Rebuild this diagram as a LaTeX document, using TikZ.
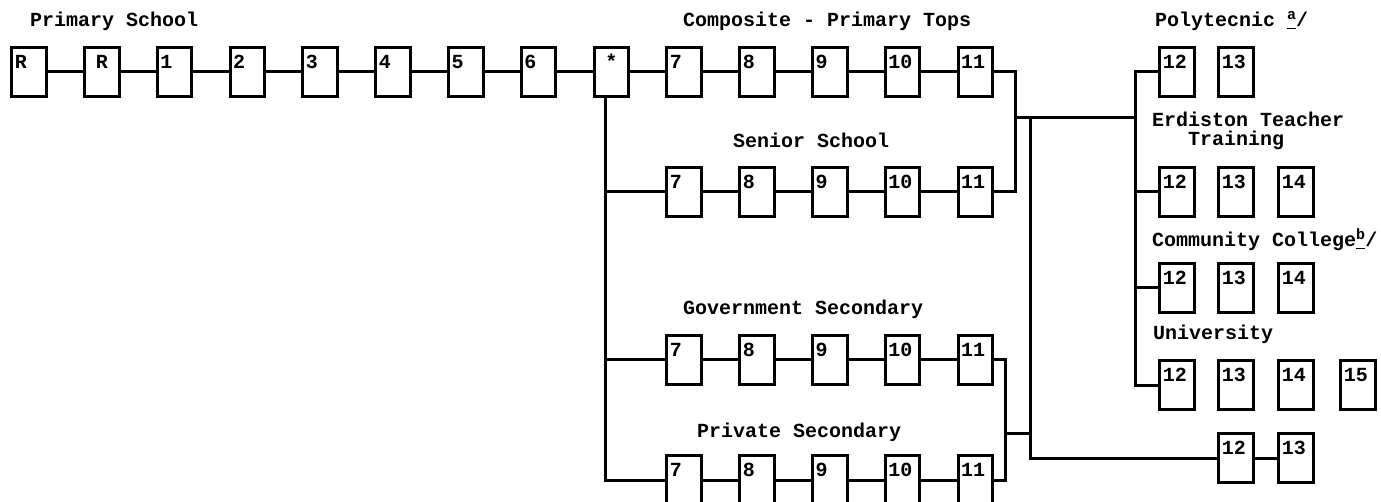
\documentclass[tikz,border=0pt]{standalone}
\usepackage{fontspec}
\setmonofont{Liberation Mono}
\tikzstyle{yr}=[draw=black,line width=3pt,font=\ttfamily\bfseries\fontsize{20}{20}\selectfont,text width=28.5pt,inner xsep=3pt,inner ysep=4pt,text height=16.5pt,text depth=24pt,align=left]
\tikzstyle{yrc}=[yr,align=center]
\tikzstyle{lbl}=[font=\ttfamily\bfseries\fontsize{20}{20}\selectfont,anchor=base west,inner sep=0pt]
\tikzstyle{link}=[line width=3pt]
\newcommand{\fnote}[1]{\underline{\raisebox{7pt}{\fontsize{15}{15}\selectfont #1}}/}

\begin{document}
\begin{tikzpicture}[x=1pt,y=-1pt]
\useasboundingbox (0,0) rectangle (1381,502);
% labels
\node[lbl] (lPrim) at (30,27) {Primary School};
\node[lbl] (lComp) at (683,27) {Composite - Primary Tops};
\node[lbl] (lPoly) at (1155,27) {Polytecnic \fnote{a}};
\node[lbl] (lSen) at (733,148) {Senior School};
\node[lbl] (lErd) at (1152,127) {Erdiston Teacher};
\node[lbl] (lErdb) at (1188,146) {Training};
\node[lbl] (lCom) at (1152,247) {Community College\fnote{b}};
\node[lbl] (lUni) at (1153,340) {University};
\node[lbl] (lGov) at (683,315) {Government Secondary};
\node[lbl] (lPriv) at (697,437) {Private Secondary};
% primary and composite row
\node[yr] (pR) at (29,72) {R};
\node[yrc] (pRR) at (101.8,72) {R};
\node[yr] (p1) at (174.6,72) {1};
\node[yr] (p2) at (247.4,72) {2};
\node[yr] (p3) at (320.2,72) {3};
\node[yr] (p4) at (393,72) {4};
\node[yr] (p5) at (465.8,72) {5};
\node[yr] (p6) at (538.6,72) {6};
\node[yrc] (pst) at (611.4,72) {*};
\node[yr] (c7) at (684.2,72) {7};
\node[yr] (c8) at (757,72) {8};
\node[yr] (c9) at (829.8,72) {9};
\node[yr] (c10) at (902.6,72) {10};
\node[yr] (c11) at (975.4,72) {11};
% senior school
\node[yr] (s7) at (684.2,192) {7};
\node[yr] (s8) at (757,192) {8};
\node[yr] (s9) at (829.8,192) {9};
\node[yr] (s10) at (902.6,192) {10};
\node[yr] (s11) at (975.4,192) {11};
% government secondary
\node[yr] (g7) at (684.2,360) {7};
\node[yr] (g8) at (757,360) {8};
\node[yr] (g9) at (829.8,360) {9};
\node[yr] (g10) at (902.6,360) {10};
\node[yr] (g11) at (975.4,360) {11};
% private secondary
\node[yr] (v7) at (684.2,480) {7};
\node[yr] (v8) at (757,480) {8};
\node[yr] (v9) at (829.8,480) {9};
\node[yr] (v10) at (902.6,480) {10};
\node[yr] (v11) at (975.4,480) {11};
% tertiary
\node[yr] (po12) at (1177,72) {12};
\node[yr] (po13) at (1236,72) {13};
\node[yr] (er12) at (1177,192) {12};
\node[yr] (er13) at (1236,192) {13};
\node[yr] (er14) at (1296,192) {14};
\node[yr] (co12) at (1177,288) {12};
\node[yr] (co13) at (1236,288) {13};
\node[yr] (co14) at (1296,288) {14};
\node[yr] (un12) at (1177,385) {12};
\node[yr] (un13) at (1236,385) {13};
\node[yr] (un14) at (1296,385) {14};
\node[yr] (un15) at (1358,385) {15};
\node[yr] (ot12) at (1236,458) {12};
\node[yr] (ot13) at (1296,458) {13};
% junctions
\coordinate (tS) at (605,192); \coordinate (tG) at (605,360); \coordinate (tP) at (605,480);
\coordinate (jA) at (1015,118); \coordinate (jB) at (1030,118); \coordinate (jR) at (1135,118);
\coordinate (jC) at (1005,433);
% links
\draw[link](pR)--(pRR);\draw[link](pRR)--(p1);\draw[link](p1)--(p2);\draw[link](p2)--(p3);
\draw[link](p3)--(p4);\draw[link](p4)--(p5);\draw[link](p5)--(p6);\draw[link](p6)--(pst);
\draw[link](pst)--(c7);\draw[link](c7)--(c8);\draw[link](c8)--(c9);\draw[link](c9)--(c10);\draw[link](c10)--(c11);
\draw[link](s7)--(s8);\draw[link](s8)--(s9);\draw[link](s9)--(s10);\draw[link](s10)--(s11);
\draw[link](g7)--(g8);\draw[link](g8)--(g9);\draw[link](g9)--(g10);\draw[link](g10)--(g11);
\draw[link](v7)--(v8);\draw[link](v8)--(v9);\draw[link](v9)--(v10);\draw[link](v10)--(v11);
\draw[link](pst.south -| tP)--(tP)--(v7);
\draw[link](tS)--(s7);\draw[link](tG)--(g7);
\draw[link](c11)-|(jA);\draw[link](s11)-|(jA);\draw[link](jA)--(jR);
\draw[link](po12)-|(jR)|-(un12);
\draw[link](jR |- er12)--(er12);\draw[link](jR |- co12)--(co12);
\draw[link](g11)-|(jC)|-(v11);
\draw[link](jC)--(jC -| jB);
\draw[link](jB)|-(ot12);\draw[link](ot12)--(ot13);
\end{tikzpicture}
\end{document}
